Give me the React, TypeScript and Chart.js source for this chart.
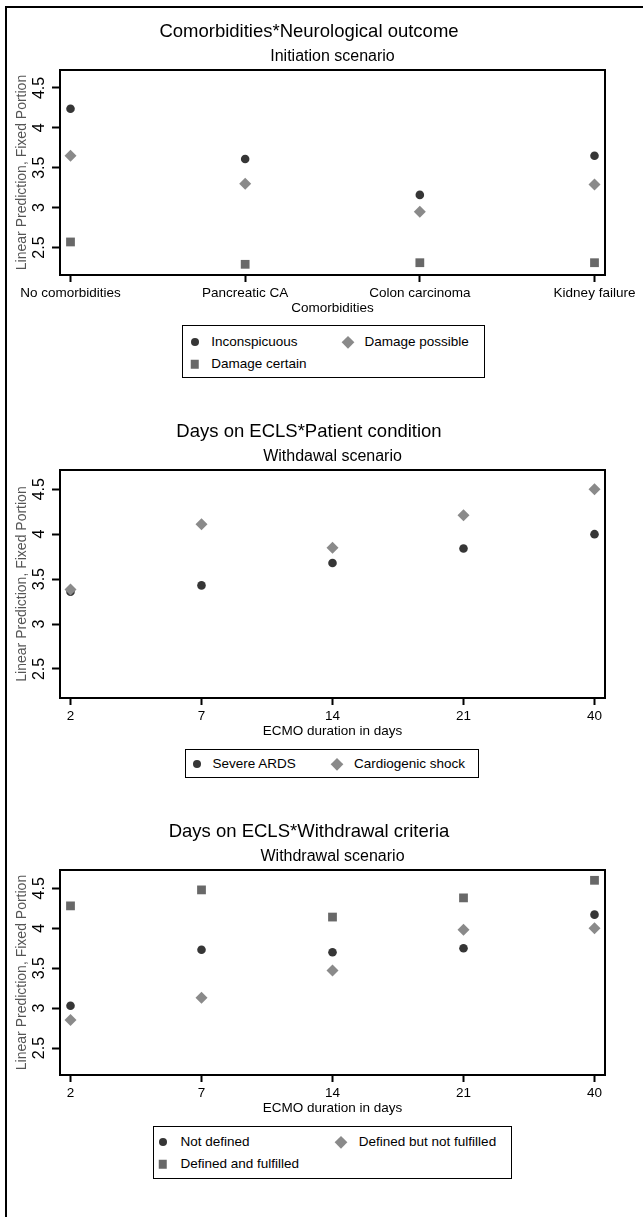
import React, { useEffect, useRef } from "react";
import { Chart, registerables } from "chart.js";

Chart.register(...registerables);

const FONT = "'Liberation Sans', Arial, Helvetica, sans-serif";
Chart.defaults.font.family = FONT;

// ---------- data ----------
const COMORBIDITIES = ["No comorbidities", "Pancreatic CA", "Colon carcinoma", "Kidney failure"];
const INCONSPICUOUS = [4.24, 3.61, 3.16, 3.65];
const DAMAGE_POSSIBLE = [3.65, 3.3, 2.95, 3.29];
const DAMAGE_CERTAIN = [2.57, 2.29, 2.31, 2.31];

const ECMO_DAYS = ["2", "7", "14", "21", "40"];
const SEVERE_ARDS = [3.36, 3.43, 3.68, 3.84, 4.0];
const CARDIOGENIC_SHOCK = [3.385, 4.11, 3.85, 4.21, 4.5];

const NOT_DEFINED = [3.03, 3.73, 3.7, 3.75, 4.17];
const DEFINED_NOT_FULFILLED = [2.85, 3.13, 3.47, 3.98, 4.0];
const DEFINED_FULFILLED = [4.28, 4.48, 4.14, 4.38, 4.6];

const Y_TICKS = [2.5, 3, 3.5, 4, 4.5];

// ---------- styles ----------
const C_CIRCLE = "#363636";
const C_DIAMOND = "#8a8a8a";
const C_SQUARE = "#686868";

type Marker = "circle" | "diamond" | "square";
const MARKER_STYLE: Record<Marker, any> = {
  circle: { pointStyle: "circle", pointRadius: 4.3, color: C_CIRCLE, order: 1 },
  diamond: { pointStyle: "rectRot", pointRadius: 6, color: C_DIAMOND, order: 0 },
  square: { pointStyle: "rect", pointRadius: 6.2, color: C_SQUARE, order: 2 },
};

type Series = { label: string; values: number[]; marker: Marker };

type PanelCfg = {
  top: number;
  height: number;
  title: string;
  subtitle: string;
  xTitle: string;
  categories: string[];
  series: Series[];
  yMin: number;
  yMax: number;
};

const PANELS: PanelCfg[] = [
  {
    top: 0,
    height: 320,
    title: "Comorbidities*Neurological outcome",
    subtitle: "Initiation scenario",
    xTitle: "Comorbidities",
    categories: COMORBIDITIES,
    series: [
      { label: "Inconspicuous", values: INCONSPICUOUS, marker: "circle" },
      { label: "Damage possible", values: DAMAGE_POSSIBLE, marker: "diamond" },
      { label: "Damage certain", values: DAMAGE_CERTAIN, marker: "square" },
    ],
    yMin: 2.156,
    yMax: 4.725,
  },
  {
    top: 400,
    height: 343,
    title: "Days on ECLS*Patient condition",
    subtitle: "Withdawal scenario",
    xTitle: "ECMO duration in days",
    categories: ECMO_DAYS,
    series: [
      { label: "Severe ARDS", values: SEVERE_ARDS, marker: "circle" },
      { label: "Cardiogenic shock", values: CARDIOGENIC_SHOCK, marker: "diamond" },
    ],
    yMin: 2.177,
    yMax: 4.714,
  },
  {
    top: 800,
    height: 320,
    title: "Days on ECLS*Withdrawal criteria",
    subtitle: "Withdrawal scenario",
    xTitle: "ECMO duration in days",
    categories: ECMO_DAYS,
    series: [
      { label: "Not defined", values: NOT_DEFINED, marker: "circle" },
      { label: "Defined but not fulfilled", values: DEFINED_NOT_FULFILLED, marker: "diamond" },
      { label: "Defined and fulfilled", values: DEFINED_FULFILLED, marker: "square" },
    ],
    yMin: 2.163,
    yMax: 4.729,
  },
];

const framePlugin = {
  id: "statFrame",
  beforeDatasetsDraw(chart: any) {
    const { ctx, chartArea: a } = chart;
    ctx.save();
    ctx.lineWidth = 2;
    ctx.strokeStyle = "#000";
    ctx.strokeRect(a.left, a.top, a.right - a.left, a.bottom - a.top);
    ctx.restore();
  },
  afterDraw(chart: any) {
    const { ctx } = chart;
    const ys = chart.scales.y;
    ctx.save();
    ctx.fillStyle = "#000";
    ctx.font = `16px ${FONT}`;
    ctx.textAlign = "center";
    ctx.textBaseline = "middle";
    for (const t of ys.ticks) {
      const py = ys.getPixelForValue(t.value);
      ctx.save();
      ctx.translate(39.5, py);
      ctx.rotate(-Math.PI / 2);
      ctx.fillText(String(t.value), 0, 0);
      ctx.restore();
    }
    ctx.restore();
  },
};

function Panel({ cfg }: { cfg: PanelCfg }) {
  const ref = useRef<HTMLCanvasElement>(null);
  useEffect(() => {
    const n = cfg.categories.length;
    const spacing = 524 / (n - 1);
    const pad = 10.5 / spacing;
    const chart = new Chart(ref.current as HTMLCanvasElement, {
      type: "scatter",
      data: {
        datasets: cfg.series.map((s) => {
          const m = MARKER_STYLE[s.marker];
          return {
            label: s.label,
            data: s.values.map((v, i) => ({ x: i, y: v })),
            pointStyle: m.pointStyle,
            pointRadius: m.pointRadius,
            backgroundColor: m.color,
            borderColor: m.color,
            borderWidth: 0,
            order: m.order,
            clip: false,
          } as any;
        }),
      },
      options: {
        responsive: false,
        animation: false,
        events: [],
        layout: { padding: { left: 13, right: 38, top: 0, bottom: 0 } },
        plugins: {
          legend: { display: false },
          tooltip: { enabled: false },
          title: {
            display: true,
            text: cfg.title,
            color: "#000",
            font: { size: 18.5, weight: "normal", family: FONT },
            padding: { top: 20.9, bottom: 0 },
            fullSize: true,
          },
          subtitle: {
            display: true,
            text: cfg.subtitle,
            color: "#000",
            font: { size: 16, weight: "normal", family: FONT },
            padding: { top: 4.3, bottom: 3.4 },
            fullSize: false,
          },
        },
        scales: {
          x: {
            type: "linear",
            min: -pad,
            max: n - 1 + pad,
            afterBuildTicks: (s: any) => {
              s.ticks = cfg.categories.map((_, i) => ({ value: i }));
            },
            afterFit: (s: any) => {
              s.height = 45;
            },
            ticks: {
              callback: (v: any) => cfg.categories[Math.round(Number(v))],
              color: "#000",
              font: { size: 13.5, family: FONT },
              padding: 3,
              maxRotation: 0,
              minRotation: 0,
              autoSkip: false,
            },
            grid: {
              display: true,
              drawOnChartArea: false,
              drawTicks: true,
              tickLength: 7,
              tickWidth: 2,
              tickColor: "#000",
            },
            border: { display: false },
            title: {
              display: true,
              text: cfg.xTitle,
              color: "#000",
              font: { size: 13.5, family: FONT },
              padding: { top: 0, bottom: 3.2 },
            },
          },
          y: {
            type: "linear",
            min: cfg.yMin,
            max: cfg.yMax,
            afterBuildTicks: (s: any) => {
              s.ticks = Y_TICKS.map((v) => ({ value: v }));
            },
            afterFit: (s: any) => {
              s.width = 47;
            },
            ticks: { display: false },
            grid: {
              display: true,
              drawOnChartArea: false,
              drawTicks: true,
              tickLength: 8,
              tickWidth: 2,
              tickColor: "#000",
            },
            border: { display: false },
            title: {
              display: true,
              text: "Linear Prediction, Fixed Portion",
              color: "#555",
              font: { size: 14, family: FONT },
              padding: { top: 0.6, bottom: 0 },
            },
          },
        },
      } as any,
      plugins: [framePlugin],
    });
    return () => chart.destroy();
  }, [cfg]);
  return (
    <canvas
      ref={ref}
      width={643}
      height={cfg.height}
      style={{ position: "absolute", left: 0, top: cfg.top, width: 643, height: cfg.height }}
    />
  );
}

type LegendItem = { label: string; marker: Marker; x: number; tx: number; y: number };
type LegendCfg = { left: number; top: number; width: number; height: number; items: LegendItem[] };

const LEGENDS: LegendCfg[] = [
  {
    left: 182,
    top: 325,
    width: 303,
    height: 53,
    items: [
      { label: "Inconspicuous", marker: "circle", x: 13, tx: 29.7, y: 17 },
      { label: "Damage possible", marker: "diamond", x: 166.3, tx: 183, y: 17 },
      { label: "Damage certain", marker: "square", x: 13, tx: 29.7, y: 39.5 },
    ],
  },
  {
    left: 185,
    top: 749,
    width: 294,
    height: 29,
    items: [
      { label: "Severe ARDS", marker: "circle", x: 12, tx: 28, y: 15 },
      { label: "Cardiogenic shock", marker: "diamond", x: 152, tx: 169.5, y: 15 },
    ],
  },
  {
    left: 153,
    top: 1126,
    width: 359,
    height: 53,
    items: [
      { label: "Not defined", marker: "circle", x: 10.3, tx: 28, y: 16 },
      { label: "Defined but not fulfilled", marker: "diamond", x: 188.7, tx: 206.3, y: 16 },
      { label: "Defined and fulfilled", marker: "square", x: 10.3, tx: 28, y: 38.5 },
    ],
  },
];

function MarkerIcon({ marker, x, y }: { marker: Marker; x: number; y: number }) {
  const base: React.CSSProperties = { position: "absolute", transform: "translate(-50%, -50%)" };
  if (marker === "circle")
    return <div style={{ ...base, left: x, top: y, width: 8, height: 8, borderRadius: "50%", background: C_CIRCLE }} />;
  if (marker === "square")
    return <div style={{ ...base, left: x, top: y, width: 8.5, height: 8.5, background: C_SQUARE }} />;
  return (
    <div
      style={{
        ...base,
        left: x,
        top: y,
        width: 8.5,
        height: 8.5,
        background: C_DIAMOND,
        transform: "translate(-50%, -50%) rotate(45deg)",
      }}
    />
  );
}

function Legend({ cfg }: { cfg: LegendCfg }) {
  return (
    <div
      style={{
        position: "absolute",
        left: cfg.left,
        top: cfg.top,
        width: cfg.width,
        height: cfg.height,
        border: "1.5px solid #000",
        boxSizing: "border-box",
        fontFamily: FONT,
        fontSize: 13.5,
        color: "#000",
      }}
    >
      {cfg.items.map((it) => (
        <React.Fragment key={it.label}>
          <MarkerIcon marker={it.marker} x={it.x - 1.5} y={it.y - 1.5} />
          <div
            style={{
              position: "absolute",
              left: it.tx - 1.5,
              top: it.y - 1.5,
              transform: "translateY(-50%)",
              lineHeight: 1,
              whiteSpace: "nowrap",
            }}
          >
            {it.label}
          </div>
        </React.Fragment>
      ))}
    </div>
  );
}

export default function App() {
  return (
    <div
      style={{
        position: "fixed",
        left: 0,
        top: 0,
        width: 643,
        height: 1217,
        overflow: "hidden",
        background: "#fff",
      }}
    >
      <div
        style={{
          position: "absolute",
          left: 5,
          top: 6,
          width: 700,
          height: 1300,
          borderLeft: "2px solid #000",
          borderTop: "2px solid #000",
        }}
      />
      {PANELS.map((p, i) => (
        <Panel key={i} cfg={p} />
      ))}
      {LEGENDS.map((l, i) => (
        <Legend key={i} cfg={l} />
      ))}
    </div>
  );
}
